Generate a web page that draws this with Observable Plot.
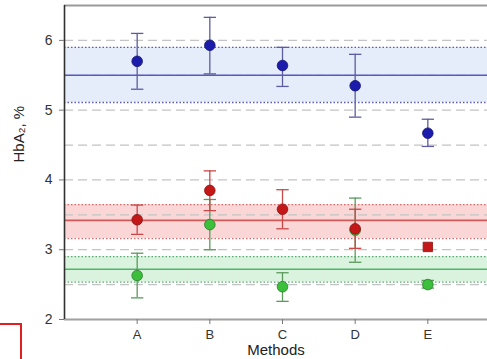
<!DOCTYPE html>
<html>
<head>
<meta charset="utf-8">
<script src="https://cdn.jsdelivr.net/npm/d3@7"></script>
<script src="https://cdn.jsdelivr.net/npm/@observablehq/plot@0.6"></script>
<style>
  html, body { margin: 0; padding: 0; background: #fff; overflow: hidden; }
  #wrap { position: relative; width: 487px; height: 359px; }
  #mark { position: absolute; left: -4px; top: 323px; width: 24px; height: 40px;
          border-top: 2px solid #e02020; border-right: 2px solid #e02020; }
  svg { font-family: "Liberation Sans", Arial, sans-serif; }
</style>
</head>
<body>
<div id="wrap"><div id="chart"></div><div id="mark"></div></div>
<script>
// Categories
const methods = ["A", "B", "C", "D", "E"];
// Y tick labels
const yTicks = [2, 3, 4, 5, 6];
const gridLevels = [2.5, 3, 3.5, 4, 4.5, 5, 5.5, 6];

// Series: blue (upper group)
const blueMean = [5.70, 5.93, 5.64, 5.35, 4.67];
const blueLow  = [5.30, 5.52, 5.34, 4.90, 4.48];
const blueHigh = [6.10, 6.33, 5.90, 5.80, 4.87];
// Series: red
const redMean = [3.43, 3.85, 3.58, 3.30, 3.04];
const redLow  = [3.22, 3.56, 3.30, 3.02, 3.04];
const redHigh = [3.64, 4.13, 3.86, 3.58, 3.04];
// Series: green
const greenMean = [2.63, 3.36, 2.47, 3.28, 2.50];
const greenLow  = [2.31, 3.00, 2.26, 2.82, 2.45];
const greenHigh = [2.95, 3.72, 2.67, 3.74, 2.56];

// Reference bands: [lower limit, mean, upper limit]
const blueBand  = [5.11, 5.50, 5.90];
const redBand   = [3.16, 3.42, 3.645];
const greenBand = [2.535, 2.72, 2.90];

const xIndex = (i) => i + 1;
const capHalf = 0.085;

function rows(mean, low, high) {
  return methods.map((m, i) => ({ x: xIndex(i), m, v: mean[i], lo: low[i], hi: high[i] }));
}
// drawing order: blue, green, red (red on top)
const series = [
  { name: "blue", data: rows(blueMean, blueLow, blueHigh), band: blueBand,
    fill: "#e5edfa", line: "#5858c4", dot: "#5c5cb8", err: "#5c5c9e", pt: "#1c1cac", ptStroke: "#101070" },
  { name: "green", data: rows(greenMean, greenLow, greenHigh), band: greenBand,
    fill: "#d9f3df", line: "#4cb866", dot: "#5ca870", err: "#5c9a5c", pt: "#3cc03c", ptStroke: "#2a7a2a" },
  { name: "red", data: rows(redMean, redLow, redHigh), band: redBand,
    fill: "#fad6d6", line: "#d05a5a", dot: "#d86a6a", err: "#c84848", pt: "#c41818", ptStroke: "#8a1010" }
];

const marks = [];
// bands
for (const s of series) {
  marks.push(Plot.rectY([s.band], { x1: 0, x2: 6, y1: d => d[0], y2: d => d[2], fill: s.fill }));
}
// grey dashed grid
marks.push(Plot.ruleY(gridLevels, { stroke: "#c4c4c4", strokeWidth: 1.3, strokeDasharray: "9,5" }));
// band lines
for (const s of series) {
  marks.push(Plot.ruleY([s.band[0], s.band[2]], { stroke: s.dot, strokeWidth: 1.3, strokeDasharray: "1.5,2" }));
  marks.push(Plot.ruleY([s.band[1]], { stroke: s.line, strokeWidth: 1.6 }));
}
// error bars + points
for (const s of series) {
  const eb = s.data.filter(d => d.hi > d.lo);
  const sq = s.data.filter(d => !(d.hi > d.lo));
  marks.push(Plot.ruleX(eb, { x: "x", y1: "lo", y2: "hi", stroke: s.err, strokeWidth: 1.3 }));
  marks.push(Plot.link(eb, { x1: d => d.x - capHalf, x2: d => d.x + capHalf, y1: "hi", y2: "hi", stroke: s.err, strokeWidth: 1.3 }));
  marks.push(Plot.link(eb, { x1: d => d.x - capHalf, x2: d => d.x + capHalf, y1: "lo", y2: "lo", stroke: s.err, strokeWidth: 1.3 }));
  marks.push(Plot.dot(eb, { x: "x", y: "v", r: 5.3, fill: s.pt, stroke: s.ptStroke, strokeWidth: 0.8 }));
  marks.push(Plot.dot(sq, { x: "x", y: "v", r: 5.3, symbol: "square", fill: s.pt, stroke: s.ptStroke, strokeWidth: 0.8 }));
}
// frame
marks.push(Plot.ruleY([6.5], { stroke: "#9a9a9a", strokeWidth: 2 }));
marks.push(Plot.ruleY([2], { stroke: "#a0a0a0", strokeWidth: 2 }));
marks.push(Plot.ruleX([0], { stroke: "#303030", strokeWidth: 1.6 }));
// axes
marks.push(Plot.axisY(yTicks, { tickSize: 5, tickPadding: 7, stroke: "#777", fontSize: 14, fill: "#333",
  tickFormat: d => String(d), label: null }));
marks.push(Plot.axisX(methods.map((m, i) => xIndex(i)), { tickSize: 5, tickPadding: 5, stroke: "#777",
  tickFormat: v => methods[v - 1], fontSize: 13, fill: "#333", label: null }));
// axis titles
marks.push(Plot.text(["HbA\u2082, %"], { frameAnchor: "left", dx: -45, rotate: -90, fontSize: 15, fill: "#222", lineAnchor: "middle" }));
marks.push(Plot.text(["Methods"], { frameAnchor: "bottom", dy: 31, fontSize: 15, fill: "#222", lineAnchor: "middle" }));

const chart = Plot.plot({
  width: 487,
  height: 359,
  marginLeft: 64,
  marginTop: 5,
  marginBottom: 40,
  marginRight: 0,
  x: { domain: [0, 6], range: [64, 500] },
  y: { domain: [2, 6.5] },
  style: { background: "#fff", overflow: "hidden" },
  marks
});
document.getElementById("chart").appendChild(chart);
</script>
</body>
</html>
